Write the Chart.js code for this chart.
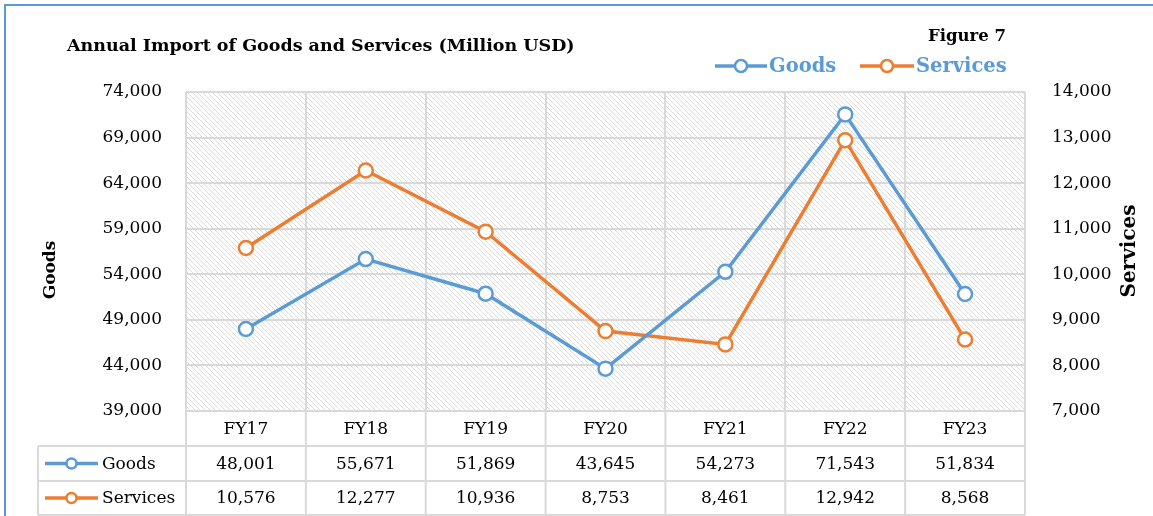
<!DOCTYPE html>
<html lang="en">
<head>
  <meta charset="UTF-8">
  <title>Annual Import of Goods and Services</title>
  <script src="https://cdn.jsdelivr.net/npm/chart.js"></script>
  <style>
    html, body { margin: 0; padding: 0; background: #fff; }
    #wrap { width: 1153px; height: 516px; position: relative; }
  </style>
</head>
<body>
<div id="wrap"><canvas id="importChart"></canvas></div>

<script>
  const years = ['FY17', 'FY18', 'FY19', 'FY20', 'FY21', 'FY22', 'FY23'];
  const goods = [48001, 55671, 51869, 43645, 54273, 71543, 51834];
  const services = [10576, 12277, 10936, 8753, 8461, 12942, 8568];

  const BLUE = '#5b9bd5';
  const ORANGE = '#ed7d31';
  const GRID = '#d9d9d9';
  const SERIF = '"DejaVu Serif", "Liberation Serif", serif';

  const fmt = v => v.toLocaleString('en-US');

  // diagonal hatch for the plot background
  function makeHatch(ctx) {
    const c = document.createElement('canvas');
    c.width = 5; c.height = 5;
    const g = c.getContext('2d');
    g.fillStyle = '#fff';
    g.fillRect(0, 0, 5, 5);
    g.fillStyle = '#dcdcdc';
    for (let i = 0; i < 5; i++) g.fillRect(i, i, 1, 1);
    return ctx.createPattern(c, 'repeat');
  }

  function legendKey(ctx, x0, x1, y, color, r) {
    ctx.save();
    ctx.strokeStyle = color;
    ctx.lineWidth = 3.5;
    ctx.beginPath(); ctx.moveTo(x0, y); ctx.lineTo(x1, y); ctx.stroke();
    ctx.fillStyle = '#fff';
    ctx.lineWidth = 2.5;
    ctx.beginPath(); ctx.arc((x0 + x1) / 2, y, r, 0, Math.PI * 2); ctx.fill(); ctx.stroke();
    ctx.restore();
  }

  const decor = {
    id: 'decor',
    beforeDraw(chart) {
      const { ctx, chartArea: a } = chart;
      ctx.save();
      ctx.fillStyle = makeHatch(ctx);
      ctx.fillRect(a.left, a.top, a.right - a.left, a.bottom - a.top);
      ctx.restore();
    },
    afterDraw(chart) {
      const { ctx, chartArea: a } = chart;
      const xs = chart.scales.x;
      const colW = (a.right - a.left) / years.length;
      const rowH = 35;
      const tableLeft = 38;
      const rows = [a.bottom, a.bottom + rowH, a.bottom + rowH * 2, a.bottom + rowH * 3 - 1];

      ctx.save();
      // frame
      ctx.strokeStyle = BLUE;
      ctx.lineWidth = 2;
      ctx.beginPath();
      ctx.moveTo(5, 516); ctx.lineTo(5, 5); ctx.lineTo(1153, 5);
      ctx.stroke();

      // data table grid
      ctx.strokeStyle = GRID;
      ctx.lineWidth = 2;
      ctx.beginPath();
      for (let i = 0; i <= years.length; i++) {
        const x = a.left + i * colW;
        ctx.moveTo(x, a.bottom); ctx.lineTo(x, rows[3]);
      }
      ctx.moveTo(tableLeft, rows[1]); ctx.lineTo(tableLeft, rows[3]);
      for (let r = 1; r < rows.length; r++) {
        ctx.moveTo(tableLeft, rows[r]); ctx.lineTo(a.right, rows[r]);
      }
      ctx.stroke();

      // table text
      ctx.fillStyle = '#000';
      ctx.font = '17px ' + SERIF;
      ctx.textAlign = 'center';
      ctx.textBaseline = 'middle';
      years.forEach((y, i) => {
        const cx = xs.getPixelForValue(i);
        ctx.fillText(y, cx, (rows[0] + rows[1]) / 2 + 1);
        ctx.fillText(fmt(goods[i]), cx, (rows[1] + rows[2]) / 2 + 1);
        ctx.fillText(fmt(services[i]), cx, (rows[2] + rows[3]) / 2 + 1);
      });
      ctx.textAlign = 'left';
      legendKey(ctx, 45, 98, (rows[1] + rows[2]) / 2, BLUE, 5);
      legendKey(ctx, 45, 98, (rows[2] + rows[3]) / 2, ORANGE, 5);
      ctx.fillText('Goods', 102, (rows[1] + rows[2]) / 2 + 1);
      ctx.fillText('Services', 102, (rows[2] + rows[3]) / 2 + 1);

      // titles
      ctx.font = 'bold 17.5px ' + SERIF;
      ctx.fillText('Annual Import of Goods and Services (Million USD)', 67, 46);
      ctx.textAlign = 'right';
      ctx.font = 'bold 16.5px ' + SERIF;
      ctx.fillText('Figure 7', 1006, 37);

      // top legend
      ctx.textAlign = 'left';
      ctx.font = 'bold 19.5px ' + SERIF;
      ctx.fillStyle = BLUE;
      legendKey(ctx, 715, 767, 66, BLUE, 6);
      ctx.fillText('Goods', 769, 67);
      legendKey(ctx, 860, 914, 66, ORANGE, 6);
      ctx.fillText('Services', 916, 67);

      // axis titles
      ctx.fillStyle = '#000';
      ctx.textAlign = 'center';
      ctx.font = 'bold 17px ' + SERIF;
      ctx.translate(51, 270);
      ctx.rotate(-Math.PI / 2);
      ctx.fillText('Goods', 0, 0);
      ctx.setTransform(1, 0, 0, 1, 0, 0);
      ctx.font = 'bold 20px ' + SERIF;
      ctx.translate(1130, 251);
      ctx.rotate(-Math.PI / 2);
      ctx.fillText('Services', 0, 0);
      ctx.restore();
    }
  };

  new Chart(document.getElementById('importChart'), {
    type: 'line',
    data: {
      labels: years,
      datasets: [
        {
          label: 'Goods', data: goods, yAxisID: 'y',
          borderColor: BLUE, backgroundColor: '#fff', borderWidth: 3.5,
          pointRadius: 7, pointBorderWidth: 2.5, pointBackgroundColor: '#fff', pointBorderColor: BLUE
        },
        {
          label: 'Services', data: services, yAxisID: 'y1',
          borderColor: ORANGE, backgroundColor: '#fff', borderWidth: 3.5,
          pointRadius: 7, pointBorderWidth: 2.5, pointBackgroundColor: '#fff', pointBorderColor: ORANGE
        }
      ]
    },
    options: {
      responsive: true,
      maintainAspectRatio: false,
      animation: false,
      layout: { padding: { left: 36, right: 7, top: 92, bottom: 105 } },
      plugins: { legend: { display: false }, tooltip: { enabled: false } },
      scales: {
        x: {
          offset: true,
          grid: { color: GRID, lineWidth: 2, drawTicks: false, offset: true },
          border: { display: false },
          ticks: { display: false },
          afterFit: s => { s.height = 0; }
        },
        y: {
          position: 'left',
          min: 39000, max: 74000,
          ticks: { stepSize: 5000, padding: 24, color: '#000', font: { family: SERIF, size: 17 }, callback: v => fmt(v) },
          grid: { color: GRID, lineWidth: 2, drawTicks: false },
          border: { display: false },
          afterFit: s => { s.width = 150; }
        },
        y1: {
          position: 'right',
          min: 7000, max: 14000,
          ticks: { stepSize: 1000, padding: 27, color: '#000', font: { family: SERIF, size: 17 }, callback: v => fmt(v) },
          grid: { drawOnChartArea: false, drawTicks: false },
          border: { display: false },
          afterFit: s => { s.width = 121; }
        }
      }
    },
    plugins: [decor]
  });
</script>
</body>
</html>
